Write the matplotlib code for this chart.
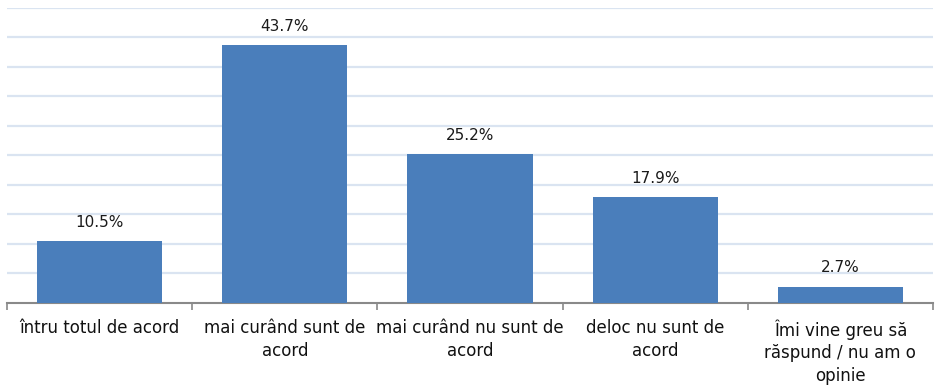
import matplotlib.pyplot as plt

# Răspunsuri și procente
categorii = [
    "întru totul de acord",
    "mai curând sunt de\nacord",
    "mai curând nu sunt de\nacord",
    "deloc nu sunt de\nacord",
    "Îmi vine greu să\nrăspund / nu am o\nopinie",
]
procente = [10.5, 43.7, 25.2, 17.9, 2.7]

familii = ["Liberation Sans Narrow", "DejaVu Sans"]
plt.rcParams["font.family"] = familii

fig = plt.figure(figsize=(9.35, 3.88), dpi=100)
ax = fig.add_axes([7 / 935, (388 - 302.5) / 388, 926 / 935, 294.5 / 388])

x = range(len(categorii))
ax.bar(x, procente, width=0.675, color="#4A7EBB", zorder=3)

for xi, v in zip(x, procente):
    ax.annotate(f"{v}%", (xi, v), xytext=(0, 8), textcoords="offset points",
                ha="center", va="bottom", fontsize=11, color="#1a1a1a")

ax.set_xlim(-0.5, len(categorii) - 0.5)
ax.set_ylim(0, 50)
ax.set_yticks(range(5, 51, 5))
ax.yaxis.grid(True, color="#DAE4F1", linewidth=1.6, zorder=0)
ax.tick_params(axis="y", left=False, labelleft=False)

ax.set_xticks([i - 0.5 for i in range(len(categorii) + 1)], minor=True)
ax.set_xticks(list(x))
ax.set_xticklabels(categorii, fontsize=12, linespacing=1.32, color="#111111")
ax.tick_params(axis="x", which="major", length=0, pad=12)
ax.tick_params(axis="x", which="minor", length=5, width=1.2, color="#898989")

for s in ["top", "left", "right"]:
    ax.spines[s].set_visible(False)
ax.spines["bottom"].set_color("#898989")
ax.spines["bottom"].set_linewidth(1.5)

fig.savefig("out.png", dpi=100)
